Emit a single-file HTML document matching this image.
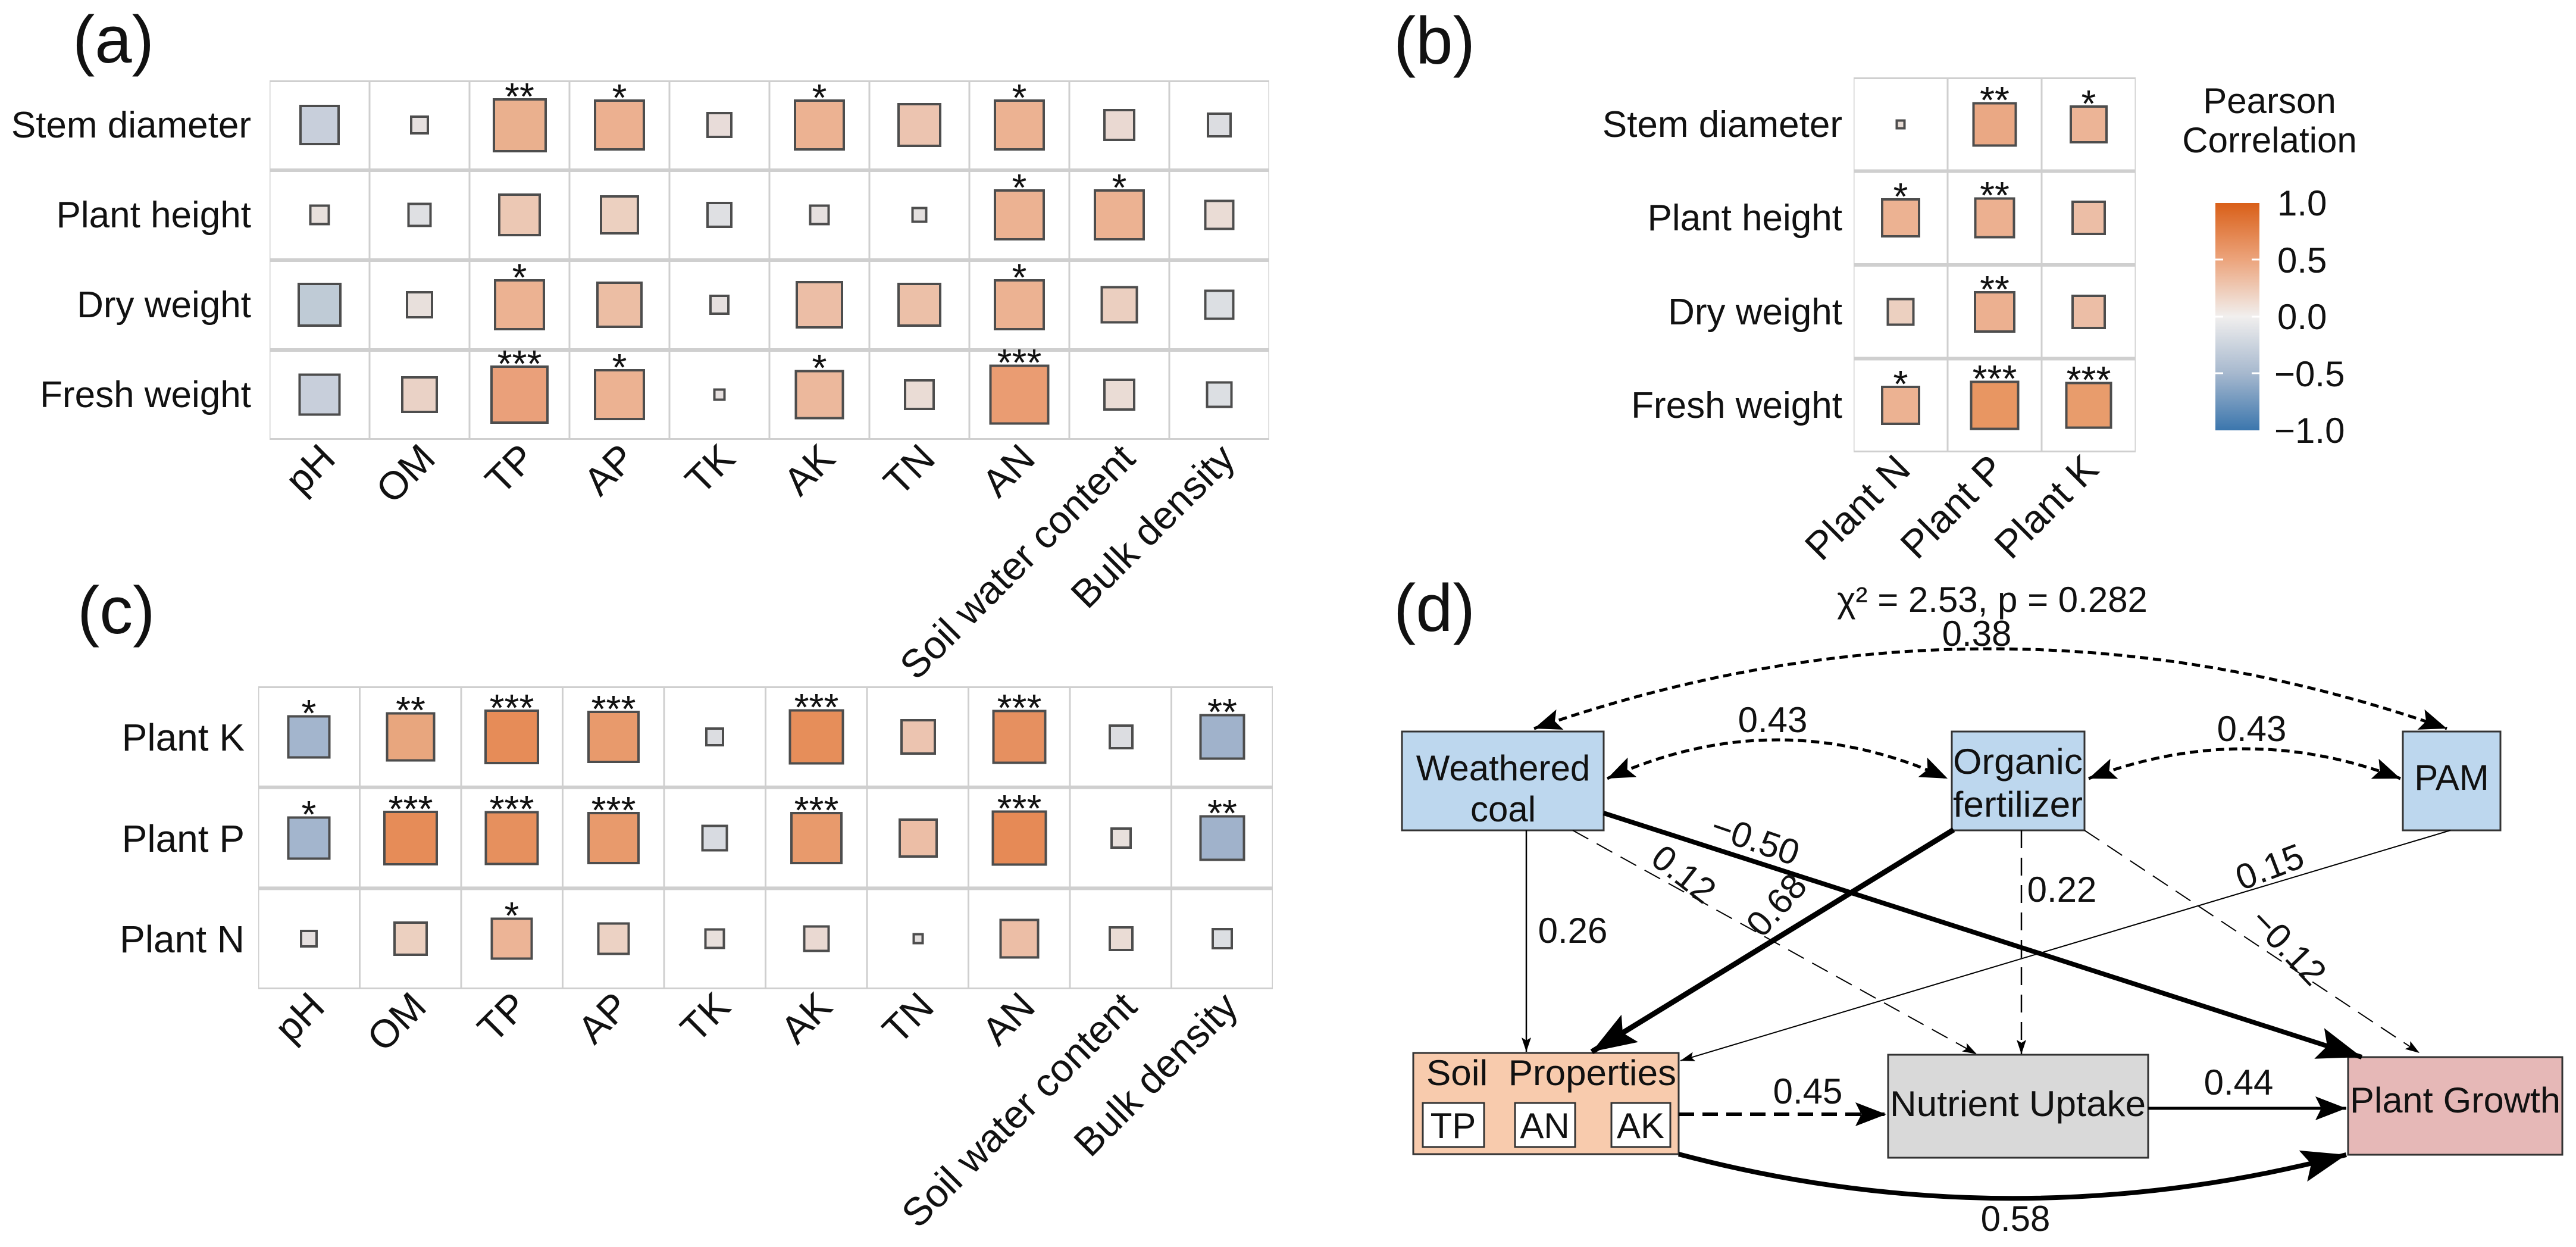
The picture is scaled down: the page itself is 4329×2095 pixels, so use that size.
<!DOCTYPE html>
<html><head><meta charset="utf-8"><style>html,body{margin:0;padding:0;background:#fff}svg{display:block}text{font-family:"Liberation Sans",Arial,sans-serif;fill:#111}</style></head><body>
<svg width="4329" height="2095" viewBox="0 0 4329 2095" xmlns="http://www.w3.org/2000/svg">
<defs>
<pattern id="pa" patternUnits="userSpaceOnUse" x="453" y="135" width="168" height="151"><rect x="1.5" y="3" width="165" height="145" fill="#fff"/></pattern>
<pattern id="pb" patternUnits="userSpaceOnUse" x="3115" y="130" width="158" height="157.5"><rect x="1.5" y="3" width="155" height="151.5" fill="#fff"/></pattern>
<pattern id="pc" patternUnits="userSpaceOnUse" x="434" y="1153" width="170.5" height="169.7"><rect x="1.5" y="3" width="167.5" height="163.7" fill="#fff"/></pattern>
<linearGradient id="cb" x1="0" y1="0" x2="0" y2="1">
<stop offset="0" stop-color="#d95f18"/><stop offset="0.25" stop-color="#eca47c"/><stop offset="0.5" stop-color="#f1efee"/><stop offset="0.75" stop-color="#a6b8ce"/><stop offset="1" stop-color="#3b76ad"/></linearGradient>
<marker id="big" markerUnits="userSpaceOnUse" markerWidth="80" markerHeight="60" refX="75" refY="27" orient="auto"><path d="M0,0 L75,27 L0,54 L14,27 z" fill="#000"/></marker>
<marker id="med" markerUnits="userSpaceOnUse" markerWidth="60" markerHeight="44" refX="52" refY="20" orient="auto"><path d="M0,0 L52,20 L0,40 L10,20 z" fill="#000"/></marker>
<marker id="dbl" markerUnits="userSpaceOnUse" markerWidth="60" markerHeight="44" refX="46" refY="18" orient="auto-start-reverse"><path d="M0,0 L46,18 L0,36 L9,18 z" fill="#000"/></marker>
<marker id="sm" markerUnits="userSpaceOnUse" markerWidth="30" markerHeight="20" refX="24" refY="8" orient="auto"><path d="M0,0 L24,8 L0,16 L5,8 z" fill="#000"/></marker>
</defs>

<g font-size="112">
<text x="122" y="105">(a)</text>
<text x="2342" y="107">(b)</text>
<text x="130" y="1064">(c)</text>
<text x="2342" y="1060">(d)</text>
</g>

<!-- Panel A -->
<rect x="453" y="135" width="1680" height="604" fill="#cfcfcf"/>
<rect x="453" y="135" width="1680" height="604" fill="url(#pa)"/>
<g font-size="62" text-anchor="end">
<text x="422" y="231">Stem diameter</text><text x="422" y="382">Plant height</text><text x="422" y="533">Dry weight</text><text x="422" y="684">Fresh weight</text>
</g>
<g stroke="#4d4d4d" stroke-width="4">
<rect x="505" y="178" width="64" height="64" fill="#c8cfdb"/><rect x="691" y="196" width="28" height="28" fill="#e6e0df"/><rect x="830" y="167" width="87" height="87" fill="#eab08e"/><rect x="1000" y="169" width="82" height="82" fill="#ecb090"/><rect x="1189" y="190" width="40" height="40" fill="#e8dcd9"/><rect x="1336" y="169" width="82" height="82" fill="#ecb292"/><rect x="1510" y="175" width="70" height="70" fill="#ecc4b0"/><rect x="1672" y="169" width="82" height="82" fill="#ecb292"/><rect x="1856" y="185" width="50" height="50" fill="#ead9d2"/><rect x="2030" y="191" width="38" height="38" fill="#dcdde1"/>
<rect x="521.5" y="345.5" width="31" height="31" fill="#e8e0dc"/><rect x="686.5" y="342.5" width="37" height="37" fill="#dfe0e3"/><rect x="839" y="327" width="68" height="68" fill="#ecc8b4"/><rect x="1010" y="330" width="62" height="62" fill="#ecd0c0"/><rect x="1189" y="341" width="40" height="40" fill="#dfe0e3"/><rect x="1361.5" y="345.5" width="31" height="31" fill="#e6e0df"/><rect x="1533.5" y="349.5" width="23" height="23" fill="#e4e0df"/><rect x="1672" y="320" width="82" height="82" fill="#ecb292"/><rect x="1840" y="320" width="82" height="82" fill="#ecb292"/><rect x="2025.5" y="337.5" width="47" height="47" fill="#eadcd5"/>
<rect x="502" y="477" width="70" height="70" fill="#bfcbd6"/><rect x="684" y="491" width="42" height="42" fill="#e8e0dc"/><rect x="832" y="471" width="82" height="82" fill="#ecb292"/><rect x="1004" y="475" width="74" height="74" fill="#ecbea4"/><rect x="1194" y="497" width="30" height="30" fill="#e6e0df"/><rect x="1339" y="474" width="76" height="76" fill="#ecbea6"/><rect x="1510" y="477" width="70" height="70" fill="#ecc0a8"/><rect x="1672" y="471" width="82" height="82" fill="#ecb292"/><rect x="1851.5" y="482.5" width="59" height="59" fill="#ebcfc0"/><rect x="2025.5" y="488.5" width="47" height="47" fill="#dcdfe3"/>
<rect x="503.5" y="629.5" width="67" height="67" fill="#c8cfdb"/><rect x="676" y="634" width="58" height="58" fill="#ead2c6"/><rect x="826" y="616" width="94" height="94" fill="#eaa07a"/><rect x="1000" y="622" width="82" height="82" fill="#ecb292"/><rect x="1200.5" y="654.5" width="17" height="17" fill="#e6e0df"/><rect x="1337.5" y="623.5" width="79" height="79" fill="#ecb89c"/><rect x="1521" y="639" width="48" height="48" fill="#eadcd5"/><rect x="1664.5" y="614.5" width="97" height="97" fill="#ea9c72"/><rect x="1856" y="638" width="50" height="50" fill="#eadcd5"/><rect x="2028.5" y="642.5" width="41" height="41" fill="#dcdfe3"/>
</g>
<g font-size="64" text-anchor="middle">
<text x="873" y="184">**</text><text x="1041" y="186">*</text><text x="1377" y="186">*</text><text x="1713" y="186">*</text>
<text x="1713" y="337">*</text><text x="1881" y="337">*</text>
<text x="873" y="488">*</text><text x="1713" y="488">*</text>
<text x="873" y="633">***</text><text x="1041" y="639">*</text><text x="1377" y="640">*</text><text x="1713" y="631">***</text>
</g>
<g font-size="66" text-anchor="end">
<text transform="translate(567,774) rotate(-45)">pH</text><text transform="translate(735,774) rotate(-45)">OM</text><text transform="translate(903,774) rotate(-45)">TP</text><text transform="translate(1071,774) rotate(-45)">AP</text><text transform="translate(1239,774) rotate(-45)">TK</text><text transform="translate(1407,774) rotate(-45)">AK</text><text transform="translate(1575,774) rotate(-45)">TN</text><text transform="translate(1743,774) rotate(-45)">AN</text><text transform="translate(1911,774) rotate(-45)">Soil water content</text><text transform="translate(2079,774) rotate(-45)">Bulk density</text>
</g>

<!-- Panel B -->
<rect x="3115" y="130" width="474" height="630" fill="#cfcfcf"/>
<rect x="3115" y="130" width="474" height="630" fill="url(#pb)"/>
<g font-size="62" text-anchor="end">
<text x="3096" y="230">Stem diameter</text><text x="3096" y="387">Plant height</text><text x="3096" y="545">Dry weight</text><text x="3096" y="702">Fresh weight</text>
</g>
<g stroke="#4d4d4d" stroke-width="4">
<rect x="3187.5" y="202.5" width="13" height="13" fill="#e8dcd5"/><rect x="3316.5" y="173.5" width="71" height="71" fill="#eaa884"/><rect x="3480" y="179" width="60" height="60" fill="#ecb496"/>
<rect x="3163" y="335" width="62" height="62" fill="#ecb292"/><rect x="3319.5" y="333.5" width="65" height="65" fill="#ecb090"/><rect x="3483" y="339" width="54" height="54" fill="#ecbea6"/>
<rect x="3172.5" y="502.5" width="43" height="43" fill="#ecd0c0"/><rect x="3319" y="491" width="66" height="66" fill="#ecb090"/><rect x="3483" y="497" width="54" height="54" fill="#ecbea6"/>
<rect x="3163" y="650" width="62" height="62" fill="#ecb292"/><rect x="3312.5" y="641.5" width="79" height="79" fill="#e89662"/><rect x="3472.5" y="643.5" width="75" height="75" fill="#e89c6c"/>
</g>
<g font-size="64" text-anchor="middle">
<text x="3352" y="190">**</text><text x="3510" y="196">*</text>
<text x="3194" y="352">*</text><text x="3352" y="350">**</text>
<text x="3352" y="508">**</text>
<text x="3194" y="667">*</text><text x="3352" y="658">***</text><text x="3510" y="660">***</text>
</g>
<g font-size="66" text-anchor="end">
<text transform="translate(3214,792) rotate(-45)">Plant N</text><text transform="translate(3372,792) rotate(-45)">Plant P</text><text transform="translate(3530,792) rotate(-45)">Plant K</text>
</g>
<text x="3814" y="190" font-size="60" text-anchor="middle">Pearson</text>
<text x="3814" y="256" font-size="60" text-anchor="middle">Correlation</text>
<rect x="3723" y="341" width="74" height="382" fill="url(#cb)"/>
<g stroke="#fff" stroke-width="3">
<line x1="3723" y1="436" x2="3736" y2="436"/><line x1="3784" y1="436" x2="3797" y2="436"/>
<line x1="3723" y1="532" x2="3736" y2="532"/><line x1="3784" y1="532" x2="3797" y2="532"/>
<line x1="3723" y1="627" x2="3736" y2="627"/><line x1="3784" y1="627" x2="3797" y2="627"/>
</g>
<g font-size="60">
<text x="3827" y="362">1.0</text><text x="3827" y="458">0.5</text><text x="3827" y="553">0.0</text><text x="3822" y="649">−0.5</text><text x="3822" y="744">−1.0</text>
</g>

<!-- Panel C -->
<rect x="434" y="1153" width="1705" height="509" fill="#cfcfcf"/>
<rect x="434" y="1153" width="1705" height="509" fill="url(#pc)"/>
<g font-size="64" text-anchor="end">
<text x="411" y="1261">Plant K</text><text x="411" y="1431">Plant P</text><text x="411" y="1600">Plant N</text>
</g>
<g stroke="#4d4d4d" stroke-width="4">
<rect x="484.5" y="1203.5" width="69" height="69" fill="#a3b5cd"/><rect x="650.5" y="1198.5" width="79" height="79" fill="#e8a67e"/><rect x="816" y="1194" width="88" height="88" fill="#e68c58"/><rect x="989" y="1196" width="84" height="84" fill="#e89a6c"/><rect x="1187" y="1224" width="28" height="28" fill="#dcdde1"/><rect x="1327.5" y="1193.5" width="89" height="89" fill="#e68e5a"/><rect x="1515" y="1210" width="56" height="56" fill="#ecc4b0"/><rect x="1669.5" y="1194.5" width="87" height="87" fill="#e69060"/><rect x="1865" y="1219" width="38" height="38" fill="#dcdde1"/><rect x="2017.5" y="1201.5" width="73" height="73" fill="#a0b2cb"/>
<rect x="484.5" y="1373.5" width="69" height="69" fill="#a3b5cd"/><rect x="646" y="1364" width="88" height="88" fill="#e68c58"/><rect x="816.5" y="1364.5" width="87" height="87" fill="#e6905e"/><rect x="989" y="1366" width="84" height="84" fill="#e89a6c"/><rect x="1180.5" y="1387.5" width="41" height="41" fill="#d8dbe1"/><rect x="1330" y="1366" width="84" height="84" fill="#e89a6c"/><rect x="1512" y="1377" width="62" height="62" fill="#ecbea6"/><rect x="1668.5" y="1363.5" width="89" height="89" fill="#e68a56"/><rect x="1868" y="1392" width="32" height="32" fill="#e8e0dc"/><rect x="2017.5" y="1371.5" width="73" height="73" fill="#a0b2cb"/>
<rect x="506" y="1564" width="26" height="26" fill="#e6e0df"/><rect x="663" y="1550" width="54" height="54" fill="#ecd0c0"/><rect x="826.5" y="1543.5" width="67" height="67" fill="#ecb496"/><rect x="1005.5" y="1551.5" width="51" height="51" fill="#ecd2c4"/><rect x="1185.5" y="1561.5" width="31" height="31" fill="#e8e0dc"/><rect x="1351.5" y="1556.5" width="41" height="41" fill="#ead9d2"/><rect x="1535.5" y="1569.5" width="15" height="15" fill="#e4e0df"/><rect x="1681.5" y="1545.5" width="63" height="63" fill="#ecbea6"/><rect x="1865" y="1558" width="38" height="38" fill="#eadcd5"/><rect x="2038" y="1561" width="32" height="32" fill="#dcdfe3"/>
</g>
<g font-size="64" text-anchor="middle">
<text x="519" y="1220">*</text><text x="690" y="1215">**</text><text x="860" y="1211">***</text><text x="1031" y="1213">***</text><text x="1372" y="1210">***</text><text x="1713" y="1211">***</text><text x="2054" y="1218">**</text>
<text x="519" y="1390">*</text><text x="690" y="1381">***</text><text x="860" y="1381">***</text><text x="1031" y="1383">***</text><text x="1372" y="1383">***</text><text x="1713" y="1380">***</text><text x="2054" y="1388">**</text>
<text x="860" y="1560">*</text>
</g>
<g font-size="66" text-anchor="end">
<text transform="translate(549,1695) rotate(-45)">pH</text><text transform="translate(720,1695) rotate(-45)">OM</text><text transform="translate(890,1695) rotate(-45)">TP</text><text transform="translate(1061,1695) rotate(-45)">AP</text><text transform="translate(1231,1695) rotate(-45)">TK</text><text transform="translate(1402,1695) rotate(-45)">AK</text><text transform="translate(1573,1695) rotate(-45)">TN</text><text transform="translate(1743,1695) rotate(-45)">AN</text><text transform="translate(1914,1695) rotate(-45)">Soil water content</text><text transform="translate(2084,1695) rotate(-45)">Bulk density</text>
</g>

<!-- Panel D nodes -->
<g stroke="#333" stroke-width="3">
<rect x="2356" y="1229" width="339" height="166" fill="#bdd7ee"/>
<rect x="3280" y="1229" width="223" height="166" fill="#bdd7ee"/>
<rect x="4038" y="1229" width="164" height="166" fill="#bdd7ee"/>
<rect x="2375" y="1769" width="446" height="170" fill="#f8cbad"/>
<rect x="3173" y="1772" width="437" height="173" fill="#d9d9d9"/>
<rect x="3946" y="1776" width="360" height="164" fill="#e6b8b7"/>
<rect x="2391" y="1853" width="103" height="74" fill="#fff"/>
<rect x="2546" y="1853" width="101" height="74" fill="#fff"/>
<rect x="2708" y="1853" width="99" height="74" fill="#fff"/>
</g>
<g font-size="60" text-anchor="middle">
<text x="2526" y="1311">Weathered</text><text x="2526" y="1380">coal</text>
<text x="3391" y="1300" textLength="218" lengthAdjust="spacingAndGlyphs">Organic</text><text x="3391" y="1372" textLength="218" lengthAdjust="spacingAndGlyphs">fertilizer</text>
<text x="4120" y="1327">PAM</text>
<text x="3391" y="1875" textLength="430" lengthAdjust="spacingAndGlyphs">Nutrient Uptake</text>
<text x="4126" y="1869" textLength="354" lengthAdjust="spacingAndGlyphs">Plant Growth</text>
<text x="2442" y="1912">TP</text><text x="2596" y="1912">AN</text><text x="2757" y="1912">AK</text>
</g>
<text x="2397" y="1823" font-size="60" xml:space="preserve" textLength="420" lengthAdjust="spacingAndGlyphs">Soil  Properties</text>

<g fill="none" stroke="#000">
<path d="M2578,1224 Q3345,956 4112,1224" stroke-width="5" stroke-dasharray="14 8" marker-start="url(#dbl)" marker-end="url(#dbl)"/>
<path d="M2701,1308 Q2987,1178 3273,1308" stroke-width="5" stroke-dasharray="14 8" marker-start="url(#dbl)" marker-end="url(#dbl)"/>
<path d="M3510,1308 Q3772,1208 4034,1308" stroke-width="5" stroke-dasharray="14 8" marker-start="url(#dbl)" marker-end="url(#dbl)"/>
<path d="M2565,1395 L2565,1767" stroke-width="2.5" marker-end="url(#sm)"/>
<path d="M2643,1395 L3322,1771" stroke-width="2" stroke-dasharray="30 16" marker-end="url(#sm)"/>
<path d="M3397,1395 L3397,1771" stroke-width="2.5" stroke-dasharray="30 16" marker-end="url(#sm)"/>
<path d="M3503,1395 L4066,1769" stroke-width="2" stroke-dasharray="30 16" marker-end="url(#sm)"/>
<path d="M4118,1395 L2824,1782" stroke-width="2" marker-end="url(#sm)"/>
<path d="M2695,1366 L3969,1776" stroke-width="8" marker-end="url(#big)"/>
<path d="M3283,1394 L2675,1767" stroke-width="9" marker-end="url(#big)"/>
<path d="M2821,1872 L3170,1872" stroke-width="6" stroke-dasharray="26 14" marker-end="url(#med)"/>
<path d="M3610,1862 L3943,1862" stroke-width="5" marker-end="url(#med)"/>
<path d="M2821,1939 Q3380,2087 3943,1940" stroke-width="8" marker-end="url(#big)"/>
</g>
<g font-size="60" text-anchor="middle">
<text x="3348" y="1028">χ² = 2.53, p = 0.282</text>
<text x="3322" y="1085">0.38</text>
<text x="2979" y="1230">0.43</text>
<text x="3784" y="1245">0.43</text>
<text x="2643" y="1584">0.26</text>
<text transform="translate(2950,1410) rotate(19)" y="21">−0.50</text>
<text transform="translate(2830,1468) rotate(38)" y="21">0.12</text>
<text transform="translate(2985,1520) rotate(-48)" y="21">0.68</text>
<text x="3465" y="1515">0.22</text>
<text transform="translate(3846,1590) rotate(46)" y="21">−0.12</text>
<text transform="translate(3814,1456) rotate(-21)" y="21">0.15</text>
<text x="3038" y="1854">0.45</text>
<text x="3762" y="1839">0.44</text>
<text x="3387" y="2068">0.58</text>
</g>
</svg>
</body></html>
